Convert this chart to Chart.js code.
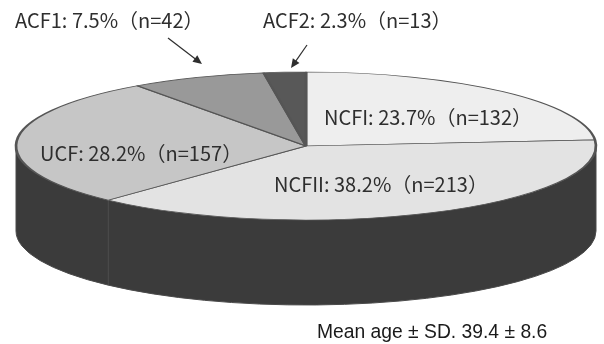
<!DOCTYPE html>
<html>
<head>
<meta charset="utf-8">
<script src="https://cdn.jsdelivr.net/npm/chart.js@4.4.0/dist/chart.umd.min.js"></script>
<style>
  html, body { margin: 0; padding: 0; background: #fff; }
  #wrap { width: 604px; height: 344px; position: relative; }
</style>
</head>
<body>
<div id="wrap"><canvas id="pie" width="604" height="344"></canvas></div>
<script>
// ===== Data =====
const categories = ['NCFI', 'NCFII', 'UCF', 'ACF1', 'ACF2'];
const counts = [132, 213, 157, 42, 13];
const percents = [23.7, 38.2, 28.2, 7.5, 2.3];
const sliceColors = ['#eeeeee', '#e3e3e3', '#c6c6c6', '#999999', '#585858'];
const footnote = 'Mean age \u00b1 SD. 39.4 \u00b1 8.6';

// label placement (left x, baseline y) and arrows for the small slices
const labelPos = [
    { x: 324, y: 125 },
    { x: 274, y: 192 },
    { x: 40, y: 161 },
    { x: 15, y: 28 },
    { x: 263, y: 28 }
];
const arrows = [null, null, null, [168, 38, 202, 64], [307, 45, 291, 68]];

// geometry of the tilted pie
const tilt = { cx: 306, cy: 146, rx: 290, ry: 74, depth: 85, wall: '#3b3b3b', edge: '#4a4a4a' };

function labelText(i) {
    return categories[i] + ': ' + percents[i].toFixed(1) + '%\uff08n=' + counts[i] + '\uff09';
}

const tiltPlugin = {
    id: 'tilt',
    beforeDatasetsDraw(chart) {
        const ctx = chart.ctx;
        const arcs = chart.getDatasetMeta(0).data;
        const R = arcs[0].outerRadius;
        const ox = arcs[0].x, oy = arcs[0].y;

        // side wall: only the front half (canvas angles 0..PI)
        ctx.save();
        ctx.fillStyle = tilt.wall;
        ctx.strokeStyle = tilt.edge;
        ctx.lineWidth = 1;
        arcs.forEach(a => {
            const s = Math.max(a.startAngle, 0);
            const e = Math.min(a.endAngle, Math.PI);
            if (e <= s) return;
            ctx.beginPath();
            ctx.ellipse(tilt.cx, tilt.cy, tilt.rx, tilt.ry, 0, s, e);
            ctx.ellipse(tilt.cx, tilt.cy + tilt.depth, tilt.rx, tilt.ry, 0, e, s, true);
            ctx.closePath();
            ctx.fill();
            ctx.stroke();
        });
        ctx.restore();

        // squash the library's circle into the top ellipse
        ctx.save();
        ctx.translate(tilt.cx, tilt.cy);
        ctx.scale(tilt.rx / R, tilt.ry / R);
        ctx.translate(-ox, -oy);
    },
    afterDatasetsDraw(chart) {
        chart.ctx.restore();
    },
    afterDraw(chart) {
        const ctx = chart.ctx;
        ctx.save();
        ctx.fillStyle = '#2e2e2e';
        ctx.font = '20px "Noto Sans CJK JP"';
        ctx.textBaseline = 'alphabetic';
        categories.forEach((c, i) => {
            ctx.fillText(labelText(i), labelPos[i].x, labelPos[i].y);
            const ar = arrows[i];
            if (!ar) return;
            const [x1, y1, x2, y2] = ar;
            const ang = Math.atan2(y2 - y1, x2 - x1);
            ctx.strokeStyle = '#2e2e2e';
            ctx.lineWidth = 1.2;
            ctx.beginPath();
            ctx.moveTo(x1, y1);
            ctx.lineTo(x2 - 5 * Math.cos(ang), y2 - 5 * Math.sin(ang));
            ctx.stroke();
            ctx.beginPath();
            ctx.moveTo(x2, y2);
            ctx.lineTo(x2 - 9 * Math.cos(ang) + 4 * Math.sin(ang), y2 - 9 * Math.sin(ang) - 4 * Math.cos(ang));
            ctx.lineTo(x2 - 9 * Math.cos(ang) - 4 * Math.sin(ang), y2 - 9 * Math.sin(ang) + 4 * Math.cos(ang));
            ctx.closePath();
            ctx.fill();
        });
        ctx.font = '19.3px "Liberation Sans", Arial, sans-serif';
        ctx.fillStyle = '#1a1a1a';
        ctx.fillText(footnote, 317, 338);
        ctx.restore();
    }
};

new Chart(document.getElementById('pie').getContext('2d'), {
    type: 'pie',
    data: {
        labels: categories,
        datasets: [{
            data: counts,
            backgroundColor: sliceColors,
            borderColor: '#555555',
            borderWidth: 1.6
        }]
    },
    options: {
        responsive: false,
        animation: false,
        layout: { padding: 0 },
        plugins: {
            legend: { display: false },
            tooltip: { enabled: false }
        }
    },
    plugins: [tiltPlugin]
});
</script>
</body>
</html>
